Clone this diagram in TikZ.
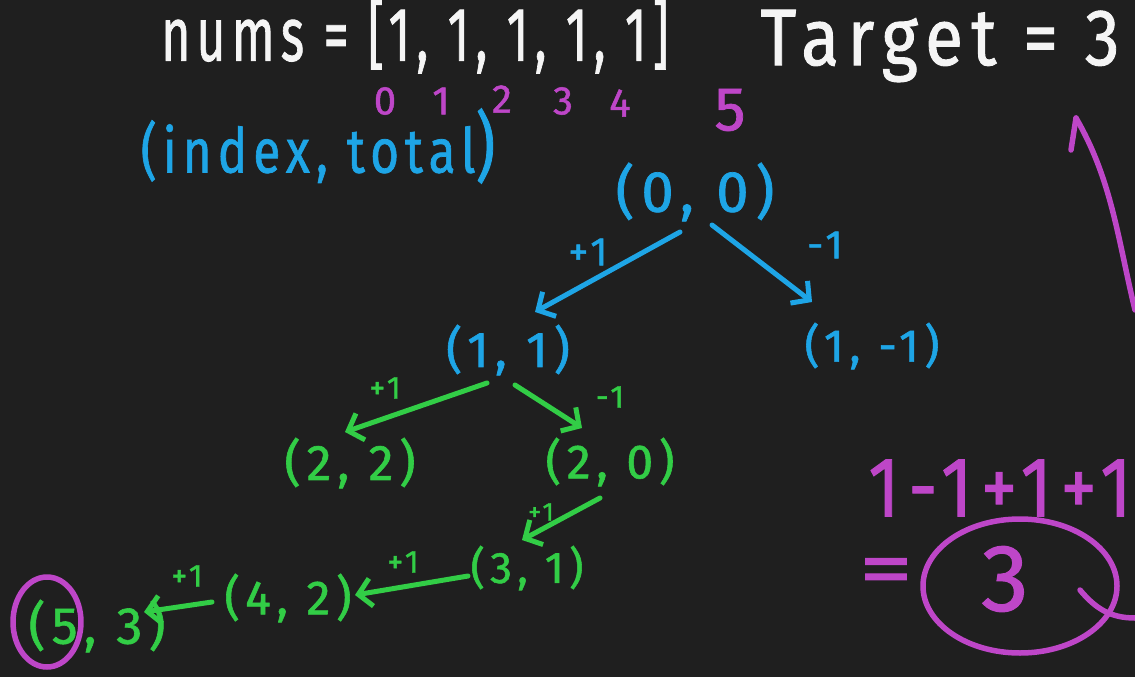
\documentclass[tikz,border=0pt]{standalone}
\usepackage{fontspec}
\setmainfont{Fira Sans}[LetterSpace=12,FakeBold=1.2]
\usetikzlibrary{arrows.meta,calc}
\definecolor{bgc}{RGB}{31,31,31}
\definecolor{chalk}{RGB}{245,245,245}
\definecolor{cmag}{RGB}{190,70,200}
\definecolor{cblue}{RGB}{30,165,230}
\definecolor{cgreen}{RGB}{50,205,70}
\begin{document}
\begin{tikzpicture}[x=1pt,y=-1pt,
  txt/.style={inner sep=0pt, transform shape},
  fs/.style={font=\fontsize{#1}{#1}\selectfont},
  wh/.style={txt, text=chalk},
  mg/.style={txt, text=cmag},
  bl/.style={txt, text=cblue},
  gr/.style={txt, text=cgreen},
  stroke/.style={line width=5pt, line cap=round, line join=round},
  arr/.style={stroke, -{Straight Barb[length=13pt,width=28pt]}},
  barr/.style={arr, draw=cblue},
  garr/.style={arr, draw=cgreen},
  mline/.style={stroke, line width=5.5pt, draw=cmag}]
\fill[bgc] (0,0) rectangle (1135,677);
\useasboundingbox (0,0) rectangle (1135,677);

% header
\node[wh, fs=76, xscale=0.66] (nums) at (415,36) {nums = [1, 1, 1, 1, 1]};
\node[wh, fs=80, xscale=0.87] (target) at (940,46) {Target = 3};
\node[mg, fs=40] (i0) at (385,101) {0};
\node[mg, fs=40] (i1) at (441,101) {1};
\node[mg, fs=40] (i2) at (502,99) {2};
\node[mg, fs=40] (i3) at (563,101) {3};
\node[mg, fs=40] (i4) at (620,103) {4};
\node[mg, fs=62] (i5) at (730,110) {5};
\node[bl, fs=62, xscale=0.8] (legend) at (318,146) {(index, total{\fontsize{76}{76}\selectfont)}};

% tree nodes
\node[bl, fs=58] (n00) at (695,192) {(0, 0)};
\node[bl, fs=50] (n11) at (508,350) {(1, 1)};
\node[bl, fs=46] (n1m) at (872,346) {(1, -1)};
\node[gr, fs=50] (n22) at (350,463) {(2, 2)};
\node[gr, fs=48] (n20) at (610,462) {(2, 0)};
\node[gr, fs=44] (n31) at (527,568) {(3, 1)};
\node[gr, fs=48] (n42) at (288,598) {(4, 2)};
\node[gr, fs=52] (n53) at (97,626) {(5, 3)};

% connectors
\draw[barr] ($(n00)+(-15,40)$) -- ($(n11)+(27,-38)$);
\draw[barr] ($(n00)+(17,33)$) -- ($(n1m)+(-60,-44)$);
\draw[garr] ($(n11)+(-21,33)$) -- ($(n22)+(-5,-31)$);
\draw[garr] ($(n11)+(7,35)$) -- ($(n20)+(-28,-34)$);
\draw[garr] ($(n20)+(-10,36)$) -- ($(n31)+(-5,-28)$);
\draw[garr] ($(n31)+(-59,8)$) -- ($(n42)+(67,-3)$);
\draw[garr] ($(n42)+(-76,4)$) -- ($(n53)+(47,-14)$);

% edge labels
\node[bl, fs=40] (l1) at (588,252) {+1};
\node[bl, fs=40] (l2) at (825,245) {-1};
\node[gr, fs=32] (l3) at (385,388) {+1};
\node[gr, fs=32] (l4) at (610,397) {-1};
\node[gr, fs=26] (l5) at (541,512) {+1};
\node[gr, fs=32] (l6) at (403,562) {+1};
\node[gr, fs=32] (l7) at (187,576) {+1};

% magenta annotations
\draw[mline] (47,622) ellipse [x radius=34, y radius=45];
\node[mg, fs=85, xscale=0.85] (sum) at (1000,488) {1-1+1+1};
\node[mg, fs=80, xscale=1.35] (eq) at (886,577) {=};
\node[mg, fs=95] (res) at (1005,579) {3};
\draw[mline] (1020,586) ellipse [x radius=97, y radius=67];
\coordinate (tail) at (1135,618);
\draw[mline] (1080,590) .. controls (1095,608) and (1110,618) .. (tail);
\coordinate (tip) at (1076,118);
\coordinate (up) at (1135,310);
\draw[mline] (up) .. controls (1118,240) and (1112,180) .. (tip);
\draw[mline] (tip) -- (1071,150);
\end{tikzpicture}
\end{document}
